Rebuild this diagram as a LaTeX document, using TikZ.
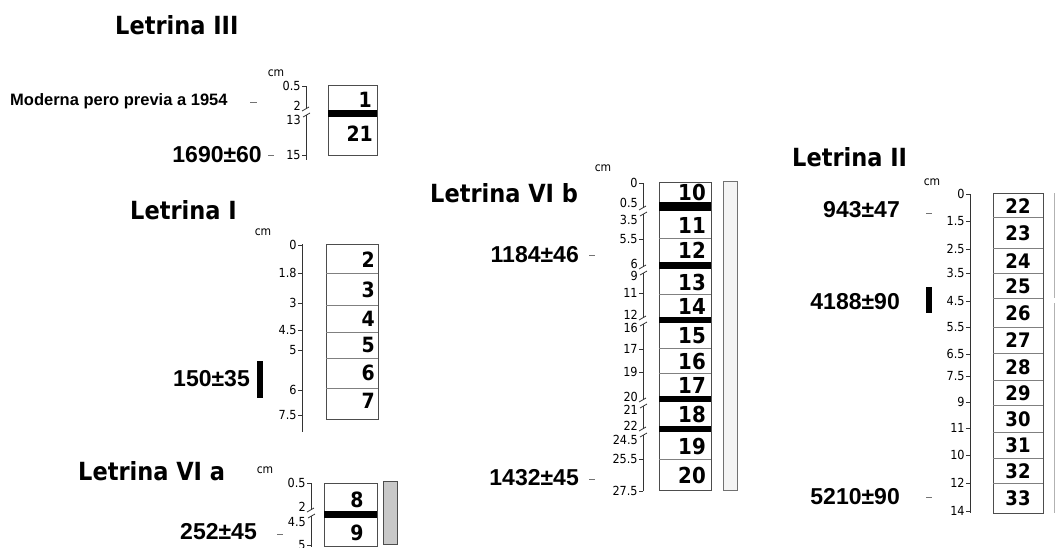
\documentclass[tikz,border=0pt]{standalone}
\usepackage{fontspec}
\setmainfont{Liberation Sans}
\newfontfamily\tahoma{DejaVu Sans Condensed}
\usetikzlibrary{positioning}
\definecolor{framegrey}{HTML}{4D4D4D}
\definecolor{rowgrey}{HTML}{808080}
\definecolor{axisgrey}{HTML}{333333}
\definecolor{barfill}{HTML}{C8C8C8}
\definecolor{palebar}{HTML}{F4F4F4}
\tikzset{
  title/.style={font=\tahoma\bfseries\fontsize{25}{28}\selectfont, anchor=west, inner sep=0pt},
  datelabel/.style={font=\bfseries\fontsize{23}{26}\selectfont, anchor=east, inner sep=0pt},
  notelabel/.style={font=\bfseries\fontsize{16.5}{19}\selectfont, anchor=west, inner sep=0pt},
  depth/.style={font=\tahoma\fontsize{12.5}{14}\selectfont, anchor=east, inner sep=1pt},
  unit/.style={font=\tahoma\fontsize{12}{14}\selectfont, inner sep=0pt},
  layernum/.style={font=\tahoma\bfseries\fontsize{21}{24}\selectfont, inner sep=0pt},
  axis/.style={draw=axisgrey, line width=0.8pt},
  frame/.style={draw=framegrey, line width=1pt},
  rowline/.style={draw=rowgrey, line width=0.9pt},
  tickdash/.style={draw=black!55, line width=0.9pt}
}
\newcommand{\scalebreak}[2]{%
  \draw[axis] (#1-4,#2-1) -- (#1+3,#2-5);
  \draw[axis] (#1-3,#2+5) -- (#1+4,#2+1);}

\begin{document}
\begin{tikzpicture}[x=1pt, y=-1pt]
\useasboundingbox (0,0) rectangle (1056,547);

% Letrina III
\node[title] (tIII) at (115,25) {Letrina III};
\node[unit] (cmIII) at (276,73) {cm};
\draw[axis] (306,86) -- (306,109);
\draw[axis] (306,115) -- (306,160);
\scalebreak{306}{112}
\foreach \d/\y [count=\i] in {0.5/86,15/155}
  \draw[axis] (306,\y) -- (302,\y) node[depth] (dIII\i) {\d};
\node[depth] (dIIIb) at (302,106) {2};
\node[depth] (dIIIc) at (302,120) {13};
\draw[frame] (328,85) rectangle (377,155);
\fill (328,110) rectangle (377,117);
\node[layernum, anchor=east] (L1) at (372,100) {1};
\node[layernum, anchor=east] (L21) at (373,134) {21};
\node[notelabel] (modern) at (10,101) {Moderna pero previa a 1954};
\draw[tickdash] (250,102) -- (257,102);
\node[datelabel] (dIIIa) at (262,155) {1690±60};
\draw[tickdash] (268,155) -- (274,155);

% Letrina I
\node[title] (tI) at (130,210) {Letrina I};
\node[unit] (cmI) at (263,232) {cm};
\draw[axis] (302,244) -- (302,432);
\foreach \d/\y [count=\i] in {0/245,1.8/273,3/303,4.5/330,5/350,6/390,7.5/415}
  \draw[axis] (302,\y) -- (298,\y) node[depth] (dI\i) {\d};
\draw[frame] (326,244) rectangle (378,419);
\foreach \y in {273,305,332,358,388}
  \draw[rowline] (326,\y) -- (378,\y);
\foreach \n/\y in {2/260,3/290,4/319,5/345,6/373,7/401}
  \node[layernum, anchor=east] (L\n) at (375,\y) {\n};
\node[datelabel] (dateI) at (250,379) {150±35};
\fill (257,361) rectangle (263,398);

% Letrina VI a
\node[title] (tVIa) at (78,471) {Letrina VI a};
\node[unit] (cmVIa) at (265,470) {cm};
\draw[axis] (311,483) -- (311,510);
\draw[axis] (311,516) -- (311,547);
\scalebreak{311}{513}
\foreach \d/\y [count=\i] in {0.5/483,5/545}
  \draw[axis] (311,\y) -- (307,\y) node[depth] (dVIa\i) {\d};
\node[depth] (dVIab) at (307,507) {2};
\node[depth] (dVIac) at (307,522) {4.5};
\draw[frame] (324,483) rectangle (377,546);
\fill (324,511) rectangle (377,518);
\node[layernum] (L8) at (357,500) {8};
\node[layernum] (L9) at (357,533) {9};
\draw[frame, fill=barfill] (383,481) rectangle (397,544);
\node[datelabel] (dateVIa) at (257,532) {252±45};
\draw[tickdash] (277,534) -- (283,534);

% Letrina VI b
\node[title] (tVIb) at (430,193) {Letrina VI b};
\node[unit] (cmVIb) at (603,168) {cm};
\foreach \a/\b in {183/208,214/267,273/318,324/400,406/429,435/491}
  \draw[axis] (643,\a) -- (643,\b);
\foreach \y in {211,270,321,403,432}
  {\scalebreak{643}{\y}}
\foreach \d/\y [count=\i] in {0/183,5.5/239,11/293,17/349,19/372,25.5/459,27.5/491}
  \draw[axis] (643,\y) -- (639,\y) node[depth] (dVIb\i) {\d};
\foreach \d/\y [count=\i] in {0.5/203,3.5/220,6/264,9/276,12/315,16/328,20/397,21/410,22/426,24.5/440}
  \node[depth] (eVIb\i) at (639,\y) {\d};
\draw[frame] (659,182) rectangle (711,490);
\foreach \y in {238,294,348,373,459}
  \draw[rowline] (659,\y) -- (711,\y);
\foreach \a/\b in {202/211,262/269,317/323,396/402,426/432}
  \fill (659,\a) rectangle (711,\b);
\foreach \n/\y in {10/192,11/225,12/250,13/282,14/306,15/336,16/361,17/385,18/414,19/446,20/475}
  \node[layernum, font=\tahoma\bfseries\fontsize{22}{25}\selectfont] (L\n) at (692,\y) {\n};
\draw[draw=framegrey!80, line width=0.9pt, fill=palebar] (723,181) rectangle (737,490);
\node[datelabel] (dateVIba) at (579,255) {1184±46};
\draw[tickdash] (589,255) -- (595,255);
\node[datelabel] (dateVIbb) at (579,478) {1432±45};
\draw[tickdash] (589,479) -- (595,479);

% Letrina II
\node[title] (tII) at (792,157) {Letrina II};
\node[unit] (cmII) at (932,182) {cm};
\draw[axis] (970,194) -- (970,513);
\foreach \d/\y [count=\i] in {0/194,1.5/221,2.5/249,3.5/273,4.5/301,5.5/327,6.5/354,7.5/376,9/402,11/428,10/455,12/483,14/511}
  \draw[axis] (970,\y) -- (966,\y) node[depth] (dII\i) {\d};
\draw[frame] (993,193) rectangle (1043,513);
\foreach \y in {217,248,273,298,327,353,380,405,432,458,483}
  \draw[rowline] (993,\y) -- (1043,\y);
\foreach \n/\y in {22/206,23/233,24/261,25/286,26/313,27/340,28/367,29/393,30/419,31/445,32/471,33/498}
  \node[layernum, font=\tahoma\bfseries\fontsize{20}{23}\selectfont] (L\n) at (1018,\y) {\n};
\draw[draw=black!30, line width=0.9pt] (1054,193) -- (1054,298);
\draw[draw=black!30, line width=0.9pt] (1054,303) -- (1054,513);
\node[datelabel] (dateIIa) at (900,210) {943±47};
\draw[tickdash] (926,213) -- (932,213);
\node[datelabel] (dateIIb) at (900,302) {4188±90};
\fill (926,287) rectangle (932,313);
\node[datelabel] (dateIIc) at (900,497) {5210±90};
\draw[tickdash] (926,497) -- (932,497);
\end{tikzpicture}
\end{document}
